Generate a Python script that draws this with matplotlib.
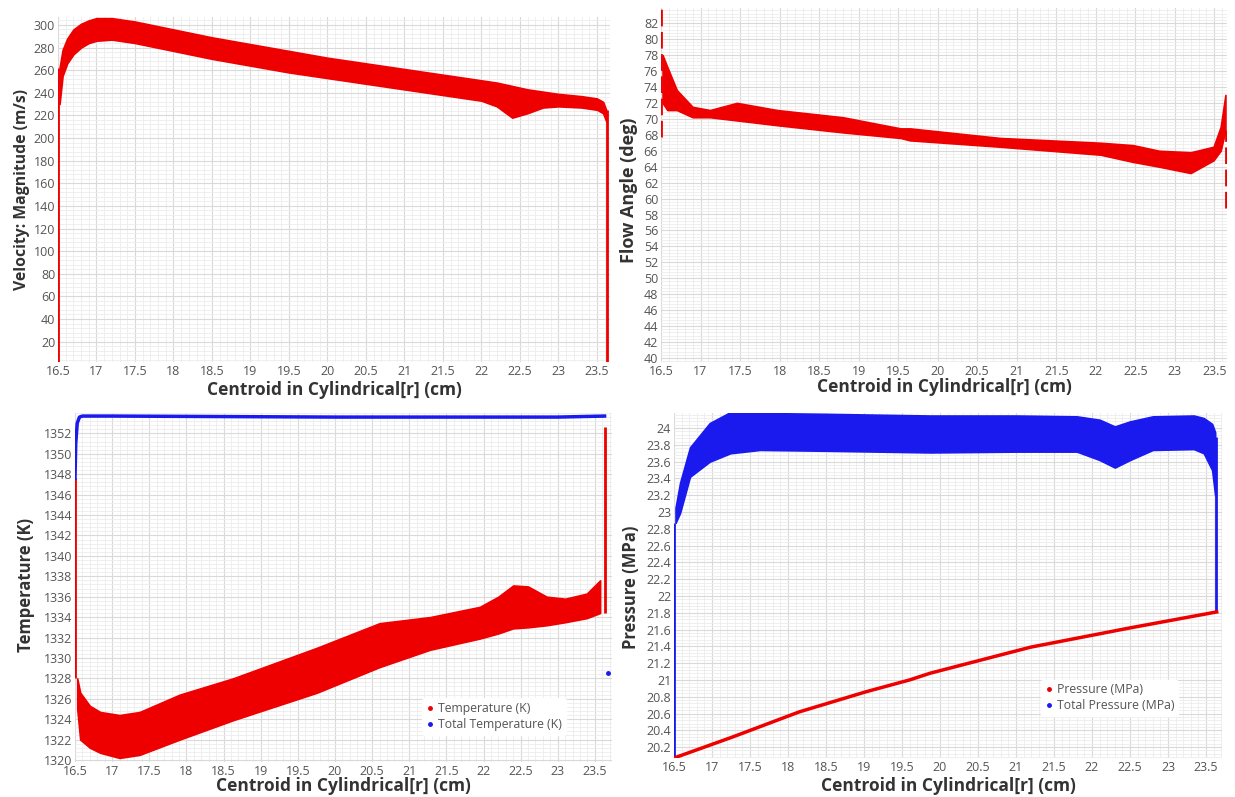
import matplotlib.pyplot as plt
import numpy as np
from matplotlib.ticker import MultipleLocator, FuncFormatter

plt.rcParams["font.family"] = "Open Sans"

W, H = 1235, 797
RED = "#ee0000"
BLUE = "#1a1aee"
TICK_C = "#555555"
LAB_C = "#333333"

## Velocity magnitude band (m/s)
vel_r = [16.52, 16.56, 16.62, 16.7, 16.8, 16.9, 17.0, 17.2, 17.5, 18.0, 18.5, 19.0, 19.5, 20.0,
         20.5, 21.0, 21.5, 22.0, 22.2, 22.4, 22.6, 22.8, 23.0, 23.3, 23.5, 23.58, 23.62]
vel_hi = [262, 278, 288, 296, 301, 304, 306, 306, 303, 296, 289, 283, 277, 271,
          266, 261, 256, 251, 249, 246, 243, 241, 239, 237, 235, 232, 225]
vel_lo = [230, 255, 266, 274, 280, 284, 286, 287, 284, 277, 270, 264, 258, 253,
          248, 243, 238, 233, 228, 218, 222, 227, 228, 227, 225, 222, 215]
vel_wall_r = [16.5, 23.63]
vel_wall_lo = [2, 2]
vel_wall_hi = [262, 225]

## Flow angle band (deg)
ang_r = [16.52, 16.58, 16.7, 16.9, 17.12, 17.46, 17.97, 18.8, 19.53, 19.65, 20.79,
         22.06, 22.47, 22.8, 23.2, 23.49, 23.58, 23.64]
ang_hi = [78.0, 76.5, 73.6, 71.5, 71.1, 72.0, 71.1, 70.2, 68.8, 68.8, 67.6,
          67.0, 66.7, 66.0, 65.8, 66.5, 69.0, 73.0]
ang_lo = [72.0, 71.1, 71.1, 70.2, 70.2, 69.8, 69.2, 68.3, 67.6, 67.3, 66.5,
          65.5, 64.6, 64.0, 63.2, 64.8, 66.0, 68.6]
ang_wall_r = [16.5, 23.645]
ang_wall_lo = [67.7, 58.8]
ang_wall_hi = [84.0, 68.6]

## Temperature (K)
tem_r = [16.53, 16.57, 16.7, 16.84, 17.1, 17.37, 17.91, 18.63, 19.76, 20.6, 21.28,
         21.95, 22.2, 22.4, 22.6, 22.85, 23.1, 23.39, 23.57]
tem_hi = [1328.0, 1326.6, 1325.3, 1324.7, 1324.4, 1324.7, 1326.4, 1328.0, 1331.0, 1333.4, 1334.0,
          1335.0, 1336.0, 1337.1, 1337.0, 1336.0, 1335.8, 1336.3, 1337.6]
tem_lo = [1325.0, 1322.0, 1321.2, 1320.7, 1320.2, 1320.5, 1322.0, 1323.9, 1326.6, 1329.1, 1330.8,
          1331.9, 1332.4, 1332.9, 1333.0, 1333.2, 1333.5, 1333.9, 1334.4]
tem_wall_r = [16.5, 23.63]
tem_wall_lo = [1328.0, 1334.4]
tem_wall_hi = [1347.6, 1352.6]
ttot_r = [16.5, 16.51, 16.53, 16.56, 16.6, 17.0, 20.0, 23.0, 23.63]
ttot = [1347.6, 1351.0, 1353.0, 1353.6, 1353.7, 1353.7, 1353.6, 1353.6, 1353.7]
ttot_pt = (23.68, 1328.5)

## Pressure (MPa)
p_r = [16.5, 17.27, 18.15, 19.03, 19.6, 19.87, 21.19, 22.5, 23.64]
p_val = [20.07, 20.32, 20.62, 20.86, 21.0, 21.08, 21.39, 21.62, 21.81]
pt_r = [16.52, 16.58, 16.71, 16.97, 17.24, 17.63, 18.5, 19.87, 21.0, 21.8, 22.1, 22.3, 22.5,
        22.8, 23.34, 23.47, 23.58, 23.62]
pt_hi = [23.05, 23.35, 23.77, 24.06, 24.19, 24.18, 24.17, 24.15, 24.15, 24.14, 24.1, 24.02, 24.08,
         24.14, 24.15, 24.12, 24.05, 23.95]
pt_lo = [22.87, 22.99, 23.42, 23.60, 23.70, 23.74, 23.73, 23.71, 23.72, 23.72, 23.62, 23.53, 23.62,
         23.74, 23.75, 23.70, 23.50, 23.20]
pt_wall_r = [16.5, 23.635]
pt_wall_lo = [20.07, 21.81]
pt_wall_hi = [22.87, 23.90]

fig = plt.figure(figsize=(W / 100, H / 100), dpi=100)


def add_ax(l, t, r, b):
    return fig.add_axes([l / W, 1 - b / H, (r - l) / W, (b - t) / H])


def style(ax, xlim, ylim, ymajor, ylabel, ylab_xy, ylab_fs, xlab_y):
    ax.set_xlim(*xlim)
    ax.set_ylim(*ylim)
    ax.xaxis.set_major_locator(MultipleLocator(0.5))
    ax.xaxis.set_minor_locator(MultipleLocator(0.1))
    ax.yaxis.set_major_locator(MultipleLocator(ymajor))
    ax.yaxis.set_minor_locator(MultipleLocator(ymajor / 5))
    ax.xaxis.set_major_formatter(FuncFormatter(lambda v, p: "%g" % round(v, 2)))
    ax.yaxis.set_major_formatter(FuncFormatter(lambda v, p: "%g" % round(v, 3)))
    ax.grid(which="major", color="#d9d9d9", lw=0.8)
    ax.grid(which="minor", color="#ececec", lw=0.6)
    ax.set_axisbelow(True)
    for s in ax.spines.values():
        s.set_visible(False)
    ax.tick_params(which="both", length=0, labelsize=9, labelcolor=TICK_C, pad=2)
    ax.set_ylabel(ylabel, fontsize=ylab_fs, fontweight="bold", color=LAB_C)
    ax.yaxis.set_label_coords(*ylab_xy)
    ax.set_xlabel("Centroid in Cylindrical[r] (cm)", fontsize=12.5, fontweight="bold", color=LAB_C)
    ax.xaxis.set_label_coords(0.5, xlab_y)


def legend(ax, anchor):
    ax.legend(loc="upper left", bbox_to_anchor=anchor, frameon=True, framealpha=1,
              edgecolor="white", fontsize=8.8, labelcolor=TICK_C, handletextpad=0.3,
              handlelength=0.7, borderpad=0.3, labelspacing=0.25)


# Velocity
ax1 = add_ax(58, 17, 610, 362)
ax1.fill_between(vel_r, vel_lo, vel_hi, color=RED, lw=1.2, edgecolor=RED)
ax1.vlines(vel_wall_r, vel_wall_lo, vel_wall_hi, color=RED, lw=2)
style(ax1, (16.5, 23.67), (2, 307), 20, "Velocity: Magnitude (m/s)", (-0.051, 0.5), 11.3, -0.056)
ax1.set_yticks(np.arange(20, 301, 20))

# Flow angle
ax2 = add_ax(661, 8, 1227, 362)
ax2.fill_between(ang_r, ang_lo, ang_hi, color=RED, lw=1.2, edgecolor=RED)
ax2.vlines(ang_wall_r, ang_wall_lo, ang_wall_hi, color=RED, lw=2, linestyles=(0, (6, 2)))
style(ax2, (16.5, 23.66), (39.5, 83.9), 2, "Flow Angle (deg)", (-0.041, 0.486), 13, -0.046)
ax2.set_yticks(np.arange(40, 83, 2))

# Temperature
ax3 = add_ax(75, 413, 612, 762)
ax3.fill_between(tem_r, tem_lo, tem_hi, color=RED, lw=1.2, edgecolor=RED)
ax3.vlines(tem_wall_r, tem_wall_lo, tem_wall_hi, color=RED, lw=2)
ax3.plot(ttot_r, ttot, color=BLUE, lw=2.5)
ax3.plot([ttot_pt[0]], [ttot_pt[1]], "o", color=BLUE, ms=2.5)
style(ax3, (16.5, 23.73), (1319.8, 1354), 2, "Temperature (K)", (-0.074, 0.507), 12, -0.044)
ax3.set_yticks(np.arange(1320, 1353, 2))
ax3.plot([], [], "o", color=RED, ms=2.5, label="Temperature (K)")
ax3.plot([], [], "o", color=BLUE, ms=2.5, label="Total Temperature (K)")
legend(ax3, (0.635, 0.2))

# Pressure
ax4 = add_ax(674, 413, 1222, 758)
ax4.fill_between(pt_r, pt_lo, pt_hi, color=BLUE, lw=1.2, edgecolor=BLUE)
ax4.vlines(pt_wall_r, pt_wall_lo, pt_wall_hi, color=BLUE, lw=2)
ax4.plot(p_r, p_val, color=RED, lw=2.5)
style(ax4, (16.5, 23.71), (20.07, 24.18), 0.2, "Pressure (MPa)", (-0.062, 0.496), 12, -0.055)
ax4.set_yticks(np.arange(20.2, 24.01, 0.2))
ax4.plot([], [], "o", color=RED, ms=2.5, label="Pressure (MPa)")
ax4.plot([], [], "o", color=BLUE, ms=2.5, label="Total Pressure (MPa)")
legend(ax4, (0.658, 0.245))

fig.savefig("out.png", dpi=100)
